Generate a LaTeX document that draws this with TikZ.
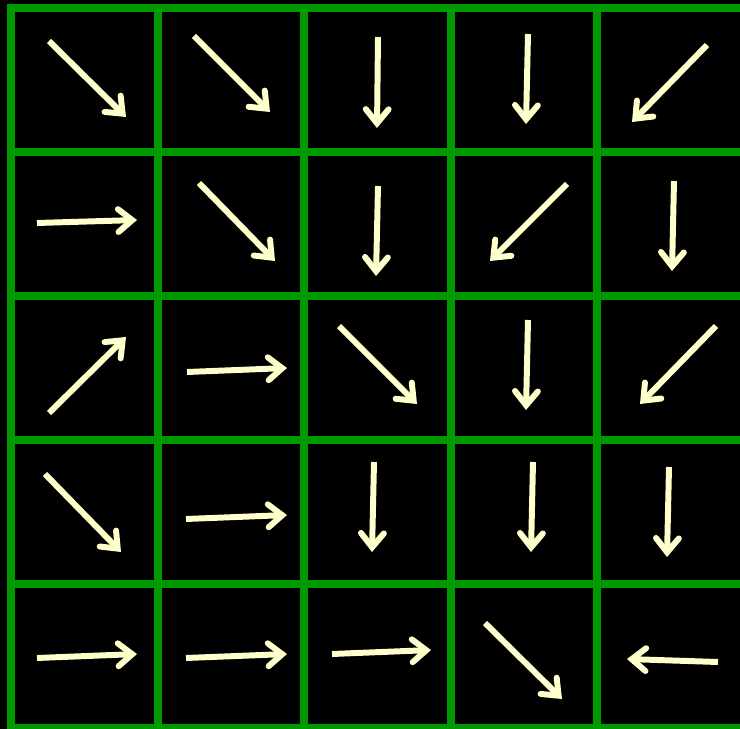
\documentclass[tikz,border=0pt]{standalone}
\usetikzlibrary{arrows.meta}
\definecolor{gridgreen}{RGB}{0,153,0}
\definecolor{arrowcream}{RGB}{255,255,204}

\begin{document}
\begin{tikzpicture}[x=0.02cm,y=-0.02cm,
  grid/.style={line width=4.5pt,gridgreen,line cap=rect},
  arr/.style={line width=3.4pt,arrowcream,
    -{Straight Barb[length=8pt,width=13pt,line cap=round,line join=miter]}}]
  % black ground
  \fill[black] (0,0) rectangle (740,729);
  \useasboundingbox (0,0) rectangle (740,729);
  \clip (0,0) rectangle (740,729);

  % green grid
  \foreach \gx in {11,157.6,304.2,450.8,597.4,744}
    \draw[grid] (\gx,8) -- (\gx,760);
  \foreach \gy in {8,152,296,440,584,728}
    \draw[grid] (11,\gy) -- (760,\gy);

  % arrows (tail x/y, tip x/y)
  \foreach \ax/\ay/\bx/\by in {
      49/41/126/117, 194/36/270/112, 378/37/377/128, 528/34/526/124, 707/45/632/122,
      37/223/137/220, 199/183/275/261, 378/186/376/276, 567/184/490/261, 674/181/672/271,
      49/413/126/337, 187/372/287/368, 339/326/417/404, 528/320/526/410, 716/326/640/404,
      45/474/121/552, 186/519/287/515, 374/462/372/552, 533/462/531/552, 669/467/667/557,
      37/658/137/654, 186/658/287/654, 332/654/431/650, 485/623/562/699, 718/662/627/659}
    \draw[arr] (\ax,\ay) -- (\bx,\by);
\end{tikzpicture}
\end{document}
